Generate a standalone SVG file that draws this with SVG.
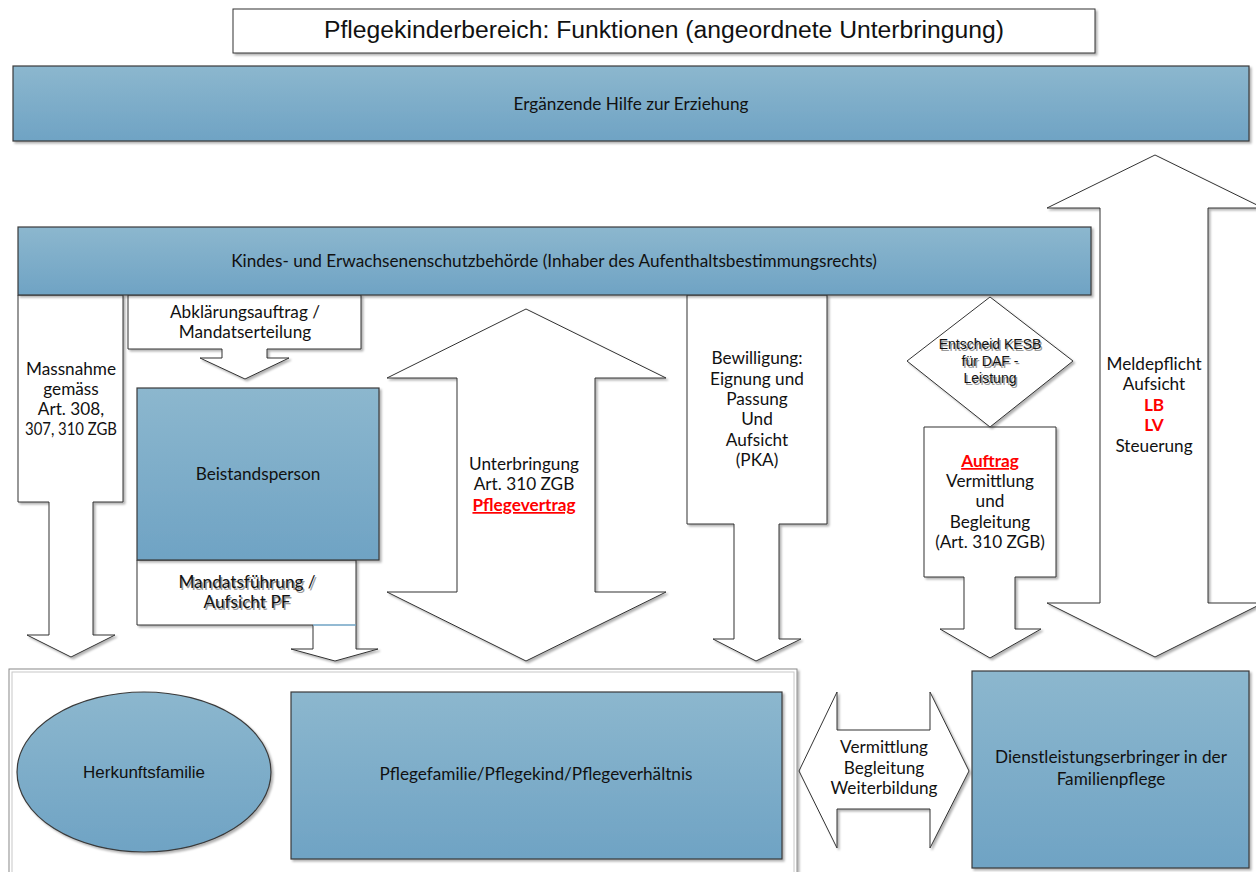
<svg xmlns="http://www.w3.org/2000/svg" width="1256" height="872" viewBox="0 0 1256 872">
<defs>
<linearGradient id="blue" x1="0" y1="0" x2="0" y2="1">
<stop offset="0" stop-color="#8cb7ce"/>
<stop offset="1" stop-color="#6fa3c4"/>
</linearGradient>
<filter id="sh" x="-5%" y="-5%" width="115%" height="115%">
<feDropShadow dx="2" dy="2" stdDeviation="1" flood-color="#000" flood-opacity="0.3"/>
</filter>
</defs>
<style>
.bx{fill:url(#blue);stroke:#3a3a3a;stroke-width:1.2}
.wh{fill:#fff;stroke:#333;stroke-width:1}
.t{font-family:Lato,"Open Sans",sans-serif;font-size:17.2px;fill:#111;text-anchor:middle}
.a{font-family:"Liberation Sans",Arial,sans-serif;fill:#111;text-anchor:middle}
.r{fill:#ff0000;font-weight:bold;text-decoration:underline}
.rb{fill:#ff0000;font-weight:bold}
.s{fill:#9a9a9a}
</style>
<rect width="1256" height="872" fill="#fff"/>

<g id="title">
<rect x="233" y="9" width="862" height="44" class="wh" filter="url(#sh)"/>
<text x="664" y="38" class="a" font-size="23" textLength="680" lengthAdjust="spacingAndGlyphs">Pflegekinderbereich: Funktionen (angeordnete Unterbringung)</text>
</g>

<g id="ergaenzende-hilfe">
<rect x="13" y="66" width="1236" height="75" class="bx" filter="url(#sh)"/>
<text x="631" y="110" class="t">Ergänzende Hilfe zur Erziehung</text>
</g>

<g id="connectors">
<g id="arrow-meldepflicht">
<path d="M1155,155 L1263,208 L1208,208 L1208,603 L1263,603 L1155,657 L1047,603 L1100,603 L1100,208 L1047,208 Z" class="wh" filter="url(#sh)"/>
<text class="t"><tspan x="1154" y="370">Meldepflicht</tspan><tspan x="1154" y="390">Aufsicht</tspan><tspan x="1154" y="411" class="rb">LB</tspan><tspan x="1154" y="431" class="rb">LV</tspan><tspan x="1154" y="452">Steuerung</tspan></text>
</g>
<g id="arrow-massnahme">
<path d="M18,295 L123,295 L123,502 L93,502 L93,635 L115,635 L71,657 L27,635 L49,635 L49,502 L18,502 Z" class="wh" filter="url(#sh)"/>
<text class="t"><tspan x="71" y="375">Massnahme</tspan><tspan x="71" y="395">gemäss</tspan><tspan x="71" y="415">Art. 308,</tspan><tspan x="71" y="435" textLength="92" lengthAdjust="spacingAndGlyphs">307, 310 ZGB</tspan></text>
</g>
<g id="arrow-abklaerung">
<path d="M128,295 L361,295 L361,349 L267,349 L267,358 L289,358 L245,379 L200,358 L222,358 L222,349 L128,349 Z" class="wh" filter="url(#sh)"/>
<text class="t"><tspan x="245" y="318">Abklärungsauftrag /</tspan><tspan x="245" y="338">Mandatserteilung</tspan></text>
</g>
<g id="arrow-mandatsfuehrung">
<path d="M137,560 L356,560 L356,649 L378,649 L335,661 L291,649 L313,649 L313,625 L137,625 Z" class="wh" filter="url(#sh)"/>
<line x1="313" y1="625" x2="356" y2="625" stroke="#6fa3c4" stroke-width="1.5"/>
<text class="t s"><tspan x="248.5" y="589.5">Mandatsführung /</tspan><tspan x="248.5" y="609.5">Aufsicht PF</tspan></text>
<text class="t"><tspan x="247" y="588">Mandatsführung /</tspan><tspan x="247" y="608">Aufsicht PF</tspan></text>
</g>
<g id="arrow-unterbringung">
<path d="M526,309 L666,378 L595,378 L595,592 L666,592 L526,661 L387,592 L457,592 L457,378 L387,378 Z" class="wh" filter="url(#sh)"/>
<text class="t"><tspan x="524" y="470">Unterbringung</tspan><tspan x="524" y="490">Art. 310 ZGB</tspan><tspan x="524" y="511" class="r">Pflegevertrag</tspan></text>
</g>
<g id="arrow-bewilligung">
<path d="M687,295 L827,295 L827,524 L779,524 L779,639 L801,639 L756,661 L713,639 L734,639 L734,524 L687,524 Z" class="wh" filter="url(#sh)"/>
<text class="t"><tspan x="757" y="364">Bewilligung:</tspan><tspan x="757" y="385">Eignung und</tspan><tspan x="757" y="405">Passung</tspan><tspan x="757" y="425">Und</tspan><tspan x="757" y="446">Aufsicht</tspan><tspan x="757" y="466">(PKA)</tspan></text>
</g>
<g id="arrow-auftrag">
<path d="M924,427 L1056,427 L1056,577 L1015,577 L1015,629 L1041,629 L990,658 L940,629 L964,629 L964,577 L924,577 Z" class="wh" filter="url(#sh)"/>
<text class="t"><tspan x="990" y="467" class="r">Auftrag</tspan><tspan x="990" y="487">Vermittlung</tspan><tspan x="990" y="507">und</tspan><tspan x="990" y="528">Begleitung</tspan><tspan x="990" y="548">(Art. 310 ZGB)</tspan></text>
</g>
<g id="arrow-vermittlung">
<path d="M799,771 L837,692 L837,730 L930,730 L930,692 L969,771 L930,848 L930,809 L837,809 L837,848 Z" class="wh" filter="url(#sh)"/>
<text class="t"><tspan x="884" y="753">Vermittlung</tspan><tspan x="884" y="774">Begleitung</tspan><tspan x="884" y="794">Weiterbildung</tspan></text>
</g>
</g>

<g id="kesb">
<rect x="18" y="227" width="1073" height="68" class="bx" filter="url(#sh)"/>
<text x="554" y="267" class="t">Kindes- und Erwachsenenschutzbehörde (Inhaber des Aufenthaltsbestimmungsrechts)</text>
</g>

<g id="entscheid">
<path d="M990,297 L1073,361 L990,427 L907,361 Z" class="wh" filter="url(#sh)"/>
<text class="a s" font-size="14"><tspan x="991.5" y="350.5">Entscheid KESB</tspan><tspan x="991.5" y="367.5">für DAF -</tspan><tspan x="991.5" y="384.5">Leistung</tspan></text>
<text class="a" font-size="14"><tspan x="990" y="349">Entscheid KESB</tspan><tspan x="990" y="366">für DAF -</tspan><tspan x="990" y="383">Leistung</tspan></text>
</g>

<g id="beistandsperson">
<rect x="137" y="388" width="242" height="172" class="bx" filter="url(#sh)"/>
<text x="258" y="480" class="t">Beistandsperson</text>
</g>

<g id="familiensystem">
<rect x="9" y="669" width="788" height="230" fill="#fff" stroke="#8a8a8a" stroke-width="1" filter="url(#sh)"/>
<rect x="12" y="672" width="782" height="230" fill="none" stroke="#c8c8c8" stroke-width="1"/>
</g>

<g id="herkunftsfamilie">
<ellipse cx="144" cy="772" rx="127" ry="80" class="bx" filter="url(#sh)"/>
<text x="144" y="778" class="a" font-size="17">Herkunftsfamilie</text>
</g>

<g id="pflegefamilie">
<rect x="291" y="692" width="491" height="167" class="bx" filter="url(#sh)"/>
<text x="536" y="780" class="t">Pflegefamilie/Pflegekind/Pflegeverhältnis</text>
</g>

<g id="dienstleistungserbringer">
<rect x="972" y="671" width="277" height="197" class="bx" filter="url(#sh)"/>
<text class="t"><tspan x="1111" y="763">Dienstleistungserbringer in der</tspan><tspan x="1111" y="785">Familienpflege</tspan></text>
</g>
</svg>
